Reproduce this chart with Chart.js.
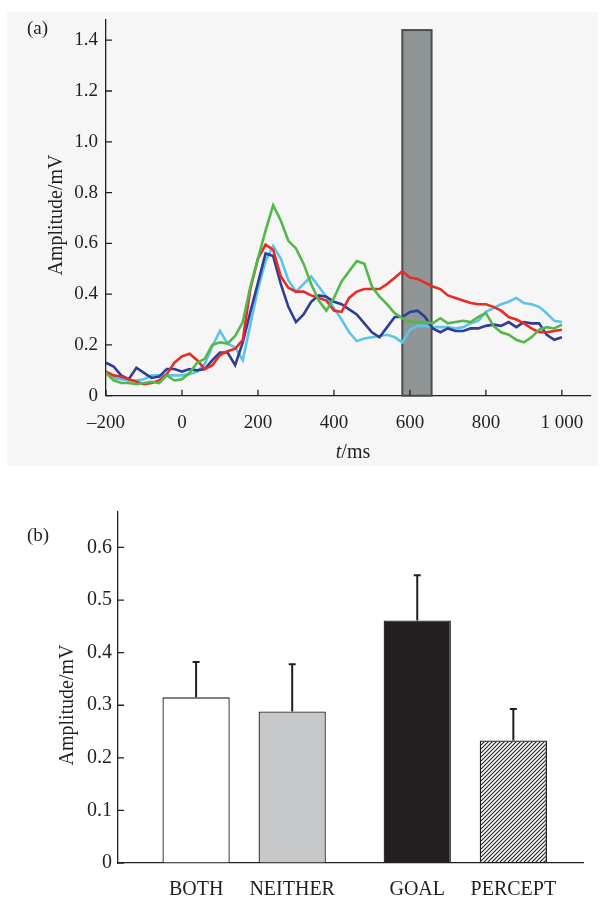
<!DOCTYPE html>
<html lang="en">
<head>
<meta charset="UTF-8">
<title>Amplitude figure</title>
<script src="https://cdn.jsdelivr.net/npm/chart.js"></script>
<style>
  body { margin: 0; width: 612px; height: 900px; position: relative; overflow: hidden; background: #fff;
         font-family: "Liberation Serif", serif; color: #231f20; }
  #panelA { position: absolute; left: 7px; top: 12px; width: 591px; height: 454px; background: #f6f6f6; }
  #wrapA { position: absolute; left: 0; top: 0; }
  #wrapB { position: absolute; left: 0; top: 470px; }
  .tag { position: absolute; left: 27px; font-size: 19px; line-height: 22px; }
</style>
</head>
<body>
<div id="panelA"></div>
<div id="wrapA"><canvas id="chartA" width="612" height="470"></canvas></div>
<div id="wrapB"><canvas id="chartB" width="612" height="430"></canvas></div>
<div class="tag" style="top:17px">(a)</div>
<div class="tag" style="top:524px">(b)</div>

<script>
// ---------- panel (a): amplitude traces ----------
const timeMs = [-200, -180, -160, -140, -120, -100, -80, -60, -40, -20,
                0, 20, 40, 60, 80, 100, 120, 140, 160, 180,
                200, 220, 240, 260, 280, 300, 320, 340, 360, 380,
                400, 420, 440, 460, 480, 500, 520, 540, 560, 580,
                600, 620, 640, 660, 680, 700, 720, 740, 760, 780,
                800, 820, 840, 860, 880, 900, 920, 940, 960, 980, 1000];

const ampGreen = [0.09, 0.06, 0.05, 0.05, 0.045, 0.05, 0.055, 0.05, 0.08, 0.06,
                  0.065, 0.09, 0.13, 0.145, 0.20, 0.21, 0.205, 0.235, 0.29, 0.43,
                  0.54, 0.65, 0.75, 0.69, 0.61, 0.58, 0.52, 0.44, 0.375, 0.335,
                  0.385, 0.45, 0.49, 0.53, 0.52, 0.43, 0.39, 0.36, 0.325, 0.305,
                  0.29, 0.29, 0.29, 0.285, 0.305, 0.285, 0.29, 0.295, 0.29, 0.31,
                  0.325, 0.275, 0.25, 0.24, 0.22, 0.21, 0.23, 0.26, 0.27, 0.265, 0.28];

const ampRed = [0.095, 0.08, 0.075, 0.065, 0.055, 0.045, 0.05, 0.06, 0.085, 0.13,
                0.155, 0.165, 0.14, 0.105, 0.12, 0.16, 0.175, 0.185, 0.22, 0.42,
                0.54, 0.595, 0.575, 0.47, 0.425, 0.41, 0.41, 0.395, 0.385, 0.375,
                0.335, 0.33, 0.385, 0.41, 0.42, 0.42, 0.42, 0.44, 0.465, 0.49,
                0.465, 0.46, 0.445, 0.43, 0.42, 0.395, 0.385, 0.375, 0.365, 0.36,
                0.36, 0.35, 0.335, 0.31, 0.30, 0.285, 0.265, 0.25, 0.25, 0.255, 0.26];

const ampBlue = [0.13, 0.115, 0.08, 0.065, 0.11, 0.09, 0.07, 0.075, 0.105, 0.105,
                 0.095, 0.105, 0.10, 0.105, 0.14, 0.17, 0.17, 0.12, 0.21, 0.33,
                 0.445, 0.56, 0.55, 0.44, 0.35, 0.29, 0.32, 0.37, 0.395, 0.39,
                 0.37, 0.36, 0.34, 0.32, 0.285, 0.25, 0.23, 0.27, 0.31, 0.31,
                 0.33, 0.335, 0.31, 0.265, 0.25, 0.265, 0.255, 0.255, 0.265, 0.265,
                 0.275, 0.28, 0.275, 0.29, 0.27, 0.29, 0.285, 0.285, 0.24, 0.22, 0.23];

const ampCyan = [0.09, 0.07, 0.065, 0.06, 0.06, 0.065, 0.08, 0.08, 0.08, 0.08,
                 0.08, 0.085, 0.095, 0.125, 0.195, 0.255, 0.205, 0.19, 0.14, 0.28,
                 0.42, 0.53, 0.59, 0.54, 0.455, 0.41, 0.44, 0.47, 0.43, 0.39,
                 0.345, 0.30, 0.25, 0.215, 0.225, 0.23, 0.235, 0.24, 0.23, 0.21,
                 0.26, 0.275, 0.275, 0.27, 0.27, 0.27, 0.265, 0.27, 0.285, 0.295,
                 0.33, 0.345, 0.36, 0.37, 0.385, 0.365, 0.36, 0.35, 0.325, 0.295, 0.29];

// analysis window (ms) and its height (mV)
const windowStart = 580;
const windowEnd = 657;
const windowTop = 1.44;

// ---------- panel (b): mean amplitude per condition ----------
const conditions = ['BOTH', 'NEITHER', 'GOAL', 'PERCEPT'];
const meanAmp = [0.315, 0.288, 0.461, 0.233];
const errAmp = [0.067, 0.090, 0.086, 0.060];

const ink = '#231f20';
const serif = '"Liberation Serif", "Times New Roman", serif';
Chart.defaults.font.family = serif;
Chart.defaults.color = ink;

// diagonal hatch for the PERCEPT bar
function makeHatch() {
  const c = document.createElement('canvas');
  c.width = 4; c.height = 4;
  const g = c.getContext('2d');
  g.strokeStyle = ink;
  g.lineWidth = 1.1;
  g.beginPath();
  g.moveTo(0, 4); g.lineTo(4, 0);
  g.moveTo(-1, 1); g.lineTo(1, -1);
  g.moveTo(3, 5); g.lineTo(5, 3);
  g.stroke();
  return c.getContext('2d').createPattern(c, 'repeat');
}
const barFills = ['#ffffff', '#c7c8ca', ink, makeHatch()];

// tick marks pointing into the plot
function inwardTicks(len, withX) {
  return {
    id: 'inwardTicks',
    afterDraw(chart) {
      const { ctx, chartArea, scales } = chart;
      ctx.save();
      ctx.strokeStyle = ink;
      ctx.lineWidth = 1.3;
      ctx.beginPath();
      scales.y.ticks.forEach(t => {
        const y = scales.y.getPixelForValue(t.value);
        ctx.moveTo(chartArea.left, y);
        ctx.lineTo(chartArea.left + len, y);
      });
      if (withX) {
        scales.x.ticks.forEach(t => {
          const x = scales.x.getPixelForValue(t.value);
          ctx.moveTo(x, chartArea.bottom);
          ctx.lineTo(x, chartArea.bottom - len);
        });
      }
      ctx.stroke();
      ctx.restore();
    }
  };
}

function yTitle(x, y) {
  return {
    id: 'yTitle',
    afterDraw(chart) {
      const ctx = chart.ctx;
      ctx.save();
      ctx.fillStyle = ink;
      ctx.font = '20px ' + serif;
      ctx.translate(x, y);
      ctx.rotate(-Math.PI / 2);
      ctx.textAlign = 'center';
      ctx.textBaseline = 'middle';
      ctx.fillText('Amplitude/mV', 0, 0);
      ctx.restore();
    }
  };
}

const windowPlugin = {
  id: 'windowBox',
  beforeDatasetsDraw(chart) {
    const { ctx, scales: { x, y } } = chart;
    const l = x.getPixelForValue(windowStart), r = x.getPixelForValue(windowEnd);
    const t = y.getPixelForValue(windowTop), b = y.getPixelForValue(0);
    ctx.save();
    ctx.fillStyle = '#909595';
    ctx.fillRect(l, t, r - l, b - t);
    ctx.strokeStyle = '#4a4d4d';
    ctx.lineWidth = 2;
    ctx.strokeRect(l, t, r - l, b - t);
    ctx.restore();
  }
};

const timeTitle = {
  id: 'timeTitle',
  afterDraw(chart) {
    const ctx = chart.ctx;
    const italic = 'italic 20px ' + serif, normal = '20px ' + serif;
    ctx.save();
    ctx.fillStyle = ink;
    ctx.textBaseline = 'alphabetic';
    ctx.textAlign = 'left';
    ctx.font = italic;
    const w1 = ctx.measureText('t').width;
    ctx.font = normal;
    const w2 = ctx.measureText('/ms').width;
    const x0 = 353 - (w1 + w2) / 2;
    ctx.font = italic;
    ctx.fillText('t', x0, 458);
    ctx.font = normal;
    ctx.fillText('/ms', x0 + w1, 458);
    ctx.restore();
  }
};

const traces = [
  { label: 'green', data: ampGreen, color: '#52b848' },
  { label: 'red', data: ampRed, color: '#ea2a24' },
  { label: 'blue', data: ampBlue, color: '#2e3d97' },
  { label: 'cyan', data: ampCyan, color: '#5bc4ea' }
];

new Chart(document.getElementById('chartA'), {
  type: 'line',
  data: {
    datasets: traces.map(s => ({
      label: s.label,
      data: timeMs.map((t, i) => ({ x: t, y: s.data[i] })),
      borderColor: s.color,
      borderWidth: 2.6,
      pointRadius: 0,
      tension: 0,
      fill: false
    }))
  },
  options: {
    responsive: false,
    animation: false,
    devicePixelRatio: 1,
    layout: { padding: { top: 14, right: 22, bottom: 0, left: 0 } },
    plugins: { legend: { display: false }, tooltip: { enabled: false } },
    scales: {
      x: {
        type: 'linear', min: -200, max: 1074,
        afterFit: s => { s.height = 74.3; },
        border: { color: ink, width: 1.3 },
        grid: { drawOnChartArea: false, drawTicks: false },
        ticks: {
          stepSize: 200, includeBounds: false, padding: 16, maxRotation: 0, autoSkip: false,
          font: { size: 19 },
          callback: v => v === 1000 ? '1 000' : String(v).replace('-', '\u2013')
        }
      },
      y: {
        type: 'linear', min: 0, max: 1.482,
        afterFit: s => { s.width = 106; },
        border: { color: ink, width: 1.3 },
        grid: { drawOnChartArea: false, drawTicks: false },
        ticks: {
          stepSize: 0.2, includeBounds: false, padding: 8,
          font: { size: 19 },
          callback: v => v === 0 ? '0' : v.toFixed(1)
        }
      }
    }
  },
  plugins: [windowPlugin, inwardTicks(6, true), yTitle(57, 215), timeTitle]
});

// ---------- panel (b) ----------
const barExtras = {
  id: 'barExtras',
  afterDatasetsDraw(chart) {
    const { ctx, chartArea, scales: { y } } = chart;
    ctx.save();
    chart.data.datasets.forEach((ds, di) => {
      chart.getDatasetMeta(di).data.forEach((bar, j) => {
        const k = ds.data[j].cat;
        const top = y.getPixelForValue(meanAmp[k] + errAmp[k]);
        ctx.strokeStyle = ink;
        ctx.lineWidth = 2;
        ctx.beginPath();
        ctx.moveTo(bar.x, bar.y);
        ctx.lineTo(bar.x, top);
        ctx.moveTo(bar.x - 3.5, top);
        ctx.lineTo(bar.x + 3.5, top);
        ctx.stroke();
        ctx.fillStyle = ink;
        ctx.font = '20px ' + serif;
        ctx.textAlign = 'center';
        ctx.textBaseline = 'middle';
        ctx.fillText(conditions[k], bar.x, chartArea.bottom + 27);
      });
    });
    ctx.restore();
  }
};

// two pairs of bars: (BOTH, NEITHER) and (GOAL, PERCEPT)
const barSets = [0, 1].map(slot => ({
  data: [0, 1].map(g => ({ x: g, y: meanAmp[g * 2 + slot], cat: g * 2 + slot })),
  backgroundColor: [0, 1].map(g => barFills[g * 2 + slot]),
  borderColor: ink,
  borderWidth: 1.3,
  categoryPercentage: 0.869,
  barPercentage: 0.70
}));

new Chart(document.getElementById('chartB'), {
  type: 'bar',
  data: { datasets: barSets },
  options: {
    responsive: false,
    animation: false,
    devicePixelRatio: 1,
    layout: { padding: { top: 41.7, right: 29, bottom: 0, left: 0 } },
    plugins: { legend: { display: false }, tooltip: { enabled: false } },
    scales: {
      x: {
        type: 'linear', min: -0.5704, max: 1.5322, offset: false,
        afterFit: s => { s.height = 37; },
        border: { color: ink, width: 1.3 },
        grid: { drawOnChartArea: false, drawTicks: false, offset: false },
        ticks: { display: false, stepSize: 1, includeBounds: false }
      },
      y: {
        type: 'linear', min: 0, max: 0.668,
        afterFit: s => { s.width = 118; },
        border: { color: ink, width: 1.3 },
        grid: { drawOnChartArea: false, drawTicks: false },
        ticks: {
          stepSize: 0.1, includeBounds: false, padding: 6,
          font: { size: 20 },
          callback: v => v === 0 ? '0' : v.toFixed(1)
        }
      }
    }
  },
  plugins: [barExtras, inwardTicks(6, false), yTitle(67.4, 235)]
});
</script>
</body>
</html>
